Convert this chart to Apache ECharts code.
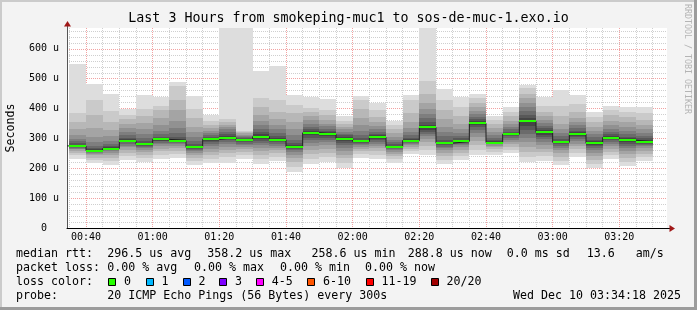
<!DOCTYPE html>
<html><head><meta charset="utf-8">
<script src="https://cdn.jsdelivr.net/npm/echarts@6/dist/echarts.min.js"></script>
<style>html,body{margin:0;padding:0;background:#f3f3f3;}#c{width:697px;height:310px;}</style>
</head><body><div id="c"></div>
<script>
// ---------------- data ----------------
const chartTitle = 'Last 3 Hours from smokeping-muc1 to sos-de-muc-1.exo.io';
const rangeStart = '00:34:18';
const rangeEnd = '03:34:18';
const yMax = 670;
const barEnds = ['00:40','00:45','00:50','00:55','01:00','01:05','01:10','01:15','01:20','01:25',
  '01:30','01:35','01:40','01:45','01:50','01:55','02:00','02:05','02:10','02:15',
  '02:20','02:25','02:30','02:35','02:40','02:45','02:50','02:55','03:00','03:05',
  '03:10','03:15','03:20','03:25','03:30'];
const medianRtt = [275,259,266,293,280,297,293,270,297,303,294,306,296,272,319,314,299,290,304,270,
  293,337,284,290,351,286,314,358,320,287,314,284,303,294,289];
// 20 sorted ping RTTs (microseconds) per 5-minute step
const pings = [
  [232,245,252,258,263,266,269,271,273,274,276,279,284,290,298,310,330,355,385,551],
  [218,228,236,243,248,252,255,257,258,259,260,263,268,276,288,305,335,380,430,482],
  [212,225,236,245,252,257,261,263,265,266,267,270,275,283,293,308,328,355,392,450],
  [227,240,252,262,270,276,282,287,290,292,294,297,302,310,320,335,350,365,378,399],
  [221,234,245,254,262,268,273,276,278,279,281,285,292,302,315,332,352,375,400,447],
  [230,245,257,266,274,281,286,290,293,296,298,301,306,314,325,345,370,395,410,440],
  [234,248,259,267,274,280,285,288,291,292,294,298,305,318,335,360,395,430,477,488],
  [211,224,234,243,251,257,262,266,268,270,271,275,282,292,305,320,340,368,400,443],
  [218,232,245,256,266,275,283,289,293,296,298,301,305,311,318,326,335,346,360,377],
  [218,238,252,262,270,280,288,294,298,302,304,308,314,322,330,338,345,355,365,680],
  [232,245,256,265,272,278,283,287,291,293,295,298,301,305,309,313,318,322,326,680],
  [214,232,246,258,268,277,285,292,298,303,308,314,322,332,345,360,380,405,437,527],
  [223,238,250,260,268,276,283,288,292,295,297,301,308,318,330,345,365,390,428,544],
  [188,205,220,233,244,253,260,265,269,271,273,277,284,295,310,330,355,385,413,447],
  [214,232,248,262,275,286,295,303,310,316,321,326,332,340,350,362,375,390,403,440],
  [222,238,252,265,277,287,296,303,308,312,316,320,326,333,341,350,362,378,395,431],
  [201,218,233,246,258,268,277,285,292,297,301,305,310,316,322,330,338,348,360,374],
  [236,248,258,266,273,278,282,285,288,289,291,294,300,310,325,345,370,400,430,443],
  [231,245,257,267,276,283,289,294,298,302,306,310,316,323,332,342,355,372,395,419],
  [218,230,240,248,255,260,264,267,269,270,272,275,280,287,295,305,318,332,345,357],
  [248,258,266,272,278,282,286,289,291,293,295,298,303,310,320,335,355,385,430,447],
  [245,262,276,288,298,307,315,322,329,334,340,346,355,368,383,400,420,450,492,680],
  [215,228,240,250,260,267,273,278,281,283,285,289,296,307,322,340,365,395,430,466],
  [227,240,252,262,270,277,282,286,289,290,292,295,300,308,318,332,350,375,405,440],
  [246,262,277,292,306,318,328,337,344,349,353,358,365,373,382,393,405,420,437,450],
  [246,256,264,271,276,280,282,284,285,286,287,290,296,303,312,323,335,348,362,374],
  [251,262,272,281,289,296,302,307,311,313,315,318,323,330,338,348,360,375,390,405],
  [220,238,256,272,288,302,316,328,343,354,362,370,380,392,405,420,435,450,468,478],
  [225,240,254,266,277,287,297,305,312,318,322,327,334,342,352,363,375,390,410,439],
  [210,225,238,250,260,268,275,280,284,286,288,292,298,307,318,332,350,375,410,461],
  [237,251,263,274,283,291,298,304,309,313,315,320,326,334,344,356,370,390,415,444],
  [201,215,228,240,251,260,268,274,279,283,286,290,296,304,314,326,340,355,372,388],
  [230,243,255,265,274,282,289,294,299,302,305,309,315,323,333,345,360,378,395,410],
  [207,222,236,248,259,268,276,283,289,293,296,300,306,315,326,340,356,372,390,404],
  [223,237,249,259,267,274,279,283,286,288,290,294,300,308,318,330,345,362,385,405]
];
const xTickLabels = ['00:40','01:00','01:20','01:40','02:00','02:20','02:40','03:00','03:20'];
const yTickLabels = [0,100,200,300,400,500,600];
const rttStats = ['median rtt:','296.5 us avg','358.2 us max','258.6 us min','288.8 us now','0.0 ms sd','13.6','am/s'];
const lossStats = ['packet loss:','0.00 % avg','0.00 % max','0.00 % min','0.00 % now'];
const lossNames = ['0','1','2','3','4-5','6-10','11-19','20/20'];
const lossColors = ['#26ff00','#00b8ff','#0059ff','#7e00ff','#ff00ff','#ff5500','#ff0000','#a10000'];
const probeInfo = ['probe:','20 ICMP Echo Pings (56 Bytes) every 300s','Wed Dec 10 03:34:18 2025'];

// ---------------- layout ----------------
const MONO = '"DejaVu Sans Mono", monospace';
const rttX = [16,107.3,207.3,311.5,407.7,506.7,586.7,635.7];
const lossX = [16,107.3,194,280,365];
const boxX = [108.3,145.7,182.7,219.3,256,307.3,365.7,430.7];
const probeX = [16,107.3,513];

function toMin(s){const p=s.split(':').map(Number);return p[0]*60+p[1]+(p[2]||0)/60;}
function fmt(m){m=Math.round(m);const h=Math.floor(m/60),mm=m%60;return String(h).padStart(2,'0')+':'+String(mm).padStart(2,'0');}
const START = toMin(rangeStart), END = toMin(rangeEnd);
const endsMin = barEnds.map(toMin);
const gridMin = [endsMin[0]-5].concat(endsMin);
const labelMin = xTickLabels.map(toMin);

function shade(k){ // k = 0 (outer) .. 9 (inner), smokeping style
  const g = Math.floor(190/10*(9-k))+50;
  return 'rgb('+g+','+g+','+g+')';
}

const stepData = [[START, medianRtt[0]]].concat(endsMin.map((e,i)=>[e, medianRtt[i]]));

const chart = echarts.init(document.getElementById('c'), null, {renderer:'canvas'});
const GRID_MINOR = '#cfcfcf', GRID_MAJOR = '#f2a2a2';

const graphics = [];
function txt(text, x, y, opts){
  graphics.push({type:'text', silent:true, style:Object.assign({text, x, y, font:'11.63px '+MONO, fill:'#000', textAlign:'left', textVerticalAlign:'middle'}, opts||{})});
}
// frame
graphics.push({type:'rect', shape:{x:0,y:0,width:697,height:2}, style:{fill:'#cbcbcb'}, silent:true});
graphics.push({type:'rect', shape:{x:0,y:0,width:2,height:310}, style:{fill:'#cbcbcb'}, silent:true});
graphics.push({type:'rect', shape:{x:694,y:0,width:3,height:310}, style:{fill:'#9c9c9c'}, silent:true});
graphics.push({type:'rect', shape:{x:0,y:307,width:697,height:3}, style:{fill:'#9c9c9c'}, silent:true});
// title
graphics.push({type:'text', silent:true, style:{text:chartTitle, x:348.5, y:19, font:'13.3px '+MONO, fill:'#000', textAlign:'center', textVerticalAlign:'middle'}});
// y name
graphics.push({type:'text', silent:true, x:11, y:128, rotation:Math.PI/2, style:{text:'Seconds', x:0, y:0, font:'11.63px '+MONO, fill:'#000', textAlign:'center', textVerticalAlign:'middle'}});
// watermark
graphics.push({type:'text', silent:true, x:687.5, y:4, rotation:-Math.PI/2, style:{text:'RRDTOOL / TOBI OETIKER', x:0, y:0, font:'8.3px '+MONO, fill:'#b4b4b4', textAlign:'left', textVerticalAlign:'middle'}});
// legend rows
rttStats.forEach((t,i)=>txt(t, rttX[i], 254));
lossStats.forEach((t,i)=>txt(t, lossX[i], 268));
txt('loss color:', 16, 282);
lossNames.forEach((n,i)=>{
  graphics.push({type:'rect', silent:true, shape:{x:Math.round(boxX[i])+0.5, y:278.5, width:7, height:7}, style:{fill:lossColors[i], stroke:'#000', lineWidth:1}});
  txt(n, boxX[i]+15.7, 282);
});
probeInfo.forEach((t,i)=>txt(t, probeX[i], 296));

const option = {
  animation:false,
  backgroundColor:'#f3f3f3',
  grid:{left:67, right:30, top:28, bottom:82, show:true, backgroundColor:'#ffffff', borderWidth:0},
  xAxis:{
    type:'value', min:START, max:END,
    axisLine:{show:true, onZero:false, lineStyle:{color:'#000', width:1}},
    axisTick:{show:false, customValues:gridMin},
    axisLabel:{customValues:labelMin, formatter:v=>fmt(v), fontFamily:MONO, fontSize:10, color:'#000', margin:4},
    splitLine:{show:true, lineStyle:{color:[GRID_MINOR,GRID_MAJOR,GRID_MINOR,GRID_MINOR], type:[1,1], width:1}}
  },
  yAxis:{
    type:'value', min:0, max:yMax, interval:20,
    axisLine:{show:true, onZero:false, lineStyle:{color:'#555', width:1}},
    axisTick:{show:false},
    axisLabel:{formatter:v=>(yTickLabels.indexOf(v)<0?'':(v===0?'0  ':v+' u')), fontFamily:MONO, fontSize:10, color:'#000', margin:8},
    splitLine:{show:true, showMaxLine:false, lineStyle:{color:[GRID_MAJOR,GRID_MINOR,GRID_MINOR,GRID_MINOR,GRID_MINOR], type:[1,1], width:1}}
  },
  series:[
    {
      type:'custom', z:2, silent:true,
      data:endsMin.map((e,i)=>[e,i]),
      renderItem:(params, api)=>{
        const i = api.value(1), end = api.value(0);
        const x0 = Math.max(end-5, START);
        const p = pings[i];
        const children = [];
        for (let k=0;k<10;k++){
          const a = api.coord([x0, p[19-k]]), b = api.coord([end, p[k]]);
          const xa = Math.round(a[0]), xb = Math.round(b[0]), ya = Math.round(a[1]), yb = Math.round(b[1]);
          const r = echarts.graphic.clipRectByRect({x:xa, y:ya, width:xb-xa, height:yb-ya}, params.coordSys);
          if (r) children.push({type:'rect', shape:r, style:{fill:shade(k)}});
        }
        return {type:'group', children};
      }
    },
    {
      type:'line', z:3, step:'start', showSymbol:false, symbol:'none', silent:true,
      data:stepData, lineStyle:{color:'#202020', width:1}
    },
    {
      type:'custom', z:4, silent:true,
      data:endsMin.map((e,i)=>[e, medianRtt[i]]),
      renderItem:(params, api)=>{
        const end = api.value(0), x0 = Math.max(end-5, START);
        const a = api.coord([x0, api.value(1)]), b = api.coord([end, api.value(1)]);
        const xa = Math.round(a[0]), xb = Math.round(b[0]), y = Math.round(a[1]);
        return {type:'rect', shape:{x:xa, y:y-1, width:xb-xa, height:2}, style:{fill:lossColors[0]}};
      }
    }
  ],
  graphic:graphics
};
chart.setOption(option);

// axis arrows (decoration), placed via the grid's own conversion
const pTop = chart.convertToPixel({gridIndex:0}, [START, yMax]);
const pRight = chart.convertToPixel({gridIndex:0}, [END, 0]);
const tx = Math.round(pTop[0])+0.5, ty = Math.round(pTop[1]);
const rx = Math.round(pRight[0]), ry = Math.round(pRight[1])+0.5;
chart.setOption({graphic: graphics.concat([
  {type:'line', silent:true, shape:{x1:tx, y1:ty, x2:tx, y2:ty-2}, style:{stroke:'#555', lineWidth:1}},
  {type:'polygon', silent:true, shape:{points:[[tx, ty-7],[tx-3.5, ty-1.5],[tx+3.5, ty-1.5]]}, style:{fill:'#a01818'}},
  {type:'line', silent:true, shape:{x1:rx, y1:ry, x2:rx+3, y2:ry}, style:{stroke:'#000', lineWidth:1}},
  {type:'polygon', silent:true, shape:{points:[[rx+2.5, ry-3.5],[rx+2.5, ry+3.5],[rx+8, ry]]}, style:{fill:'#a01818'}}
])});
</script>
</body></html>
